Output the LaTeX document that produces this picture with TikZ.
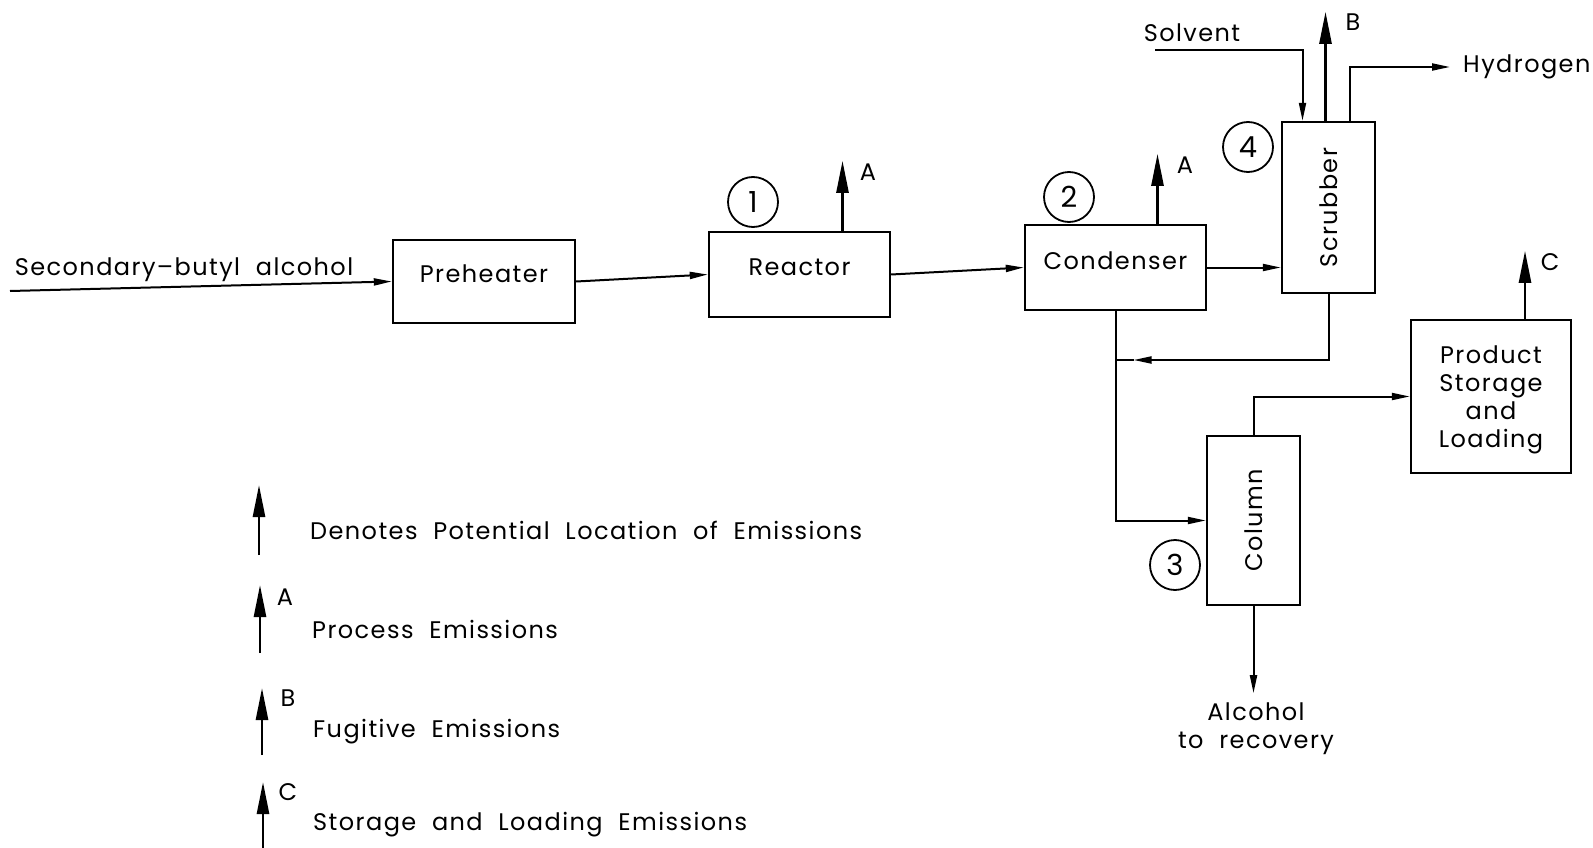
\documentclass[tikz,border=0pt]{standalone}
\usepackage{fontspec}
\setmainfont{Poppins}[LetterSpace=6,WordSpace=2]
\usetikzlibrary{arrows.meta}
\tikzset{
  unit/.style={draw, line width=2.4pt, inner sep=0pt},
  ring/.style={circle, draw, line width=1.8pt, minimum size=50pt, inner sep=0pt, font=\fontsize{29}{32}\selectfont},
  flow/.style={line width=2pt, -{Triangle[length=18pt,width=7pt]}},
  emit/.style={line width=2.6pt, -{Triangle[length=32pt,width=12pt]}},
}
\begin{document}
\begin{tikzpicture}[x=1pt,y=-1pt,font=\fontsize{24}{28}\selectfont]
\useasboundingbox (0,0) rectangle (1593,848);

% process units
\node[unit, minimum width=182pt, minimum height=83pt] (pre) at (484,281.5) {};
\node[unit, minimum width=181pt, minimum height=85pt] (reac) at (799.5,274.5) {};
\node[unit, minimum width=181pt, minimum height=85pt] (cond) at (1115.5,267.5) {};
\node[unit, minimum width=93pt, minimum height=171pt] (scrub) at (1328.5,207.5) {};
\node[unit, minimum width=93pt, minimum height=169pt] (col) at (1253.5,520.5) {};
\node[unit, minimum width=160pt, minimum height=153pt] (prod) at (1491,396.5) {};
\node (preT) at ([yshift=8pt]pre.center) {Preheater};
\node (reacT) at ([yshift=7pt]reac.center) {Reactor};
\node (condT) at ([yshift=7pt]cond.center) {Condenser};
\node[rotate=90] (scrubT) at (scrub.center) {Scrubber};
\node[rotate=90] (colT) at (col.center) {Column};
\node[align=center, inner sep=0pt] (prodT) at ([yshift=-3pt]prod.center) {Product\\Storage\\and\\Loading};

% step numbers
\node[ring] (n1) at (753,202) {1};
\node[ring] (n2) at (1069,197) {2};
\node[ring] (n3) at (1175,565) {3};
\node[ring] (n4) at (1248,147) {4};

% streams
\coordinate (feed) at (10,291);
\node (feedT) at (184,270) {Secondary--butyl alcohol};
\draw[flow] (feed) -- (pre.west);
\draw[flow] (pre.east) -- (reac.west);
\draw[flow] (reac.east) -- (cond.west);
\draw[flow] (cond.east) -- (cond.east -| scrub.west);
\node (solvT) at (1192,33) {Solvent};
\coordinate (solv) at (1155,50);
\draw[flow] (solv) -| ([xshift=-26pt]scrub.north);
\node[anchor=west, inner sep=0pt] (hydT) at (1463,67) {Hydrogen};
\draw[flow] ([xshift=21pt]scrub.north) |- ([xshift=-13pt]hydT.west);
\coordinate (jy) at (0,360);
\coordinate (jn) at (cond.south |- jy);
\draw[line width=2pt] (jn) -- ++(18,0);
\draw[flow] (scrub.south) |- ([xshift=18pt]jn);
\draw[flow] (cond.south) |- (col.west);
\draw[flow] (col.north) |- (prod.west);
\draw[flow] (col.south) -- ++(0,87) coordinate (rec);
\node[align=center, inner sep=0pt] (recT) at (1256,729) {Alcohol\\to recovery};

% emission points
\draw[emit] ([xshift=43pt]reac.north) -- ++(0,-70);
\node (eA1) at (868,172) {A};
\draw[emit] ([xshift=42pt]cond.north) -- ++(0,-70);
\node (eA2) at (1185,165) {A};
\draw[emit] ([xshift=-3pt]scrub.north) -- ++(0,-109);
\node (eB) at (1353,22) {B};
\draw[emit] ([xshift=34pt]prod.north) -- ++(0,-68);
\node (eC) at (1550,262) {C};

% legend
\coordinate (k0) at (259,555);
\coordinate (k1) at (260,653);
\coordinate (k2) at (262,755);
\coordinate (k3) at (263,848);
\draw[emit] (k0) -- ++(0,-70);
\draw[emit] (k1) -- ++(0,-68);
\draw[emit] (k2) -- ++(0,-67);
\draw[emit] (k3) -- ++(0,-66);
\node (kA) at (285,597) {A};
\node (kB) at (288,698) {B};
\node (kC) at (288,792) {C};
\node[anchor=west, inner sep=0pt] (k0T) at (310,530) {Denotes Potential Location of Emissions};
\node[anchor=west, inner sep=0pt] (k1T) at (312,629) {Process Emissions};
\node[anchor=west, inner sep=0pt] (k2T) at (313,732) {Fugitive Emissions};
\node[anchor=west, inner sep=0pt] (k3T) at (313,825) {Storage and Loading Emissions};
\end{tikzpicture}
\end{document}
